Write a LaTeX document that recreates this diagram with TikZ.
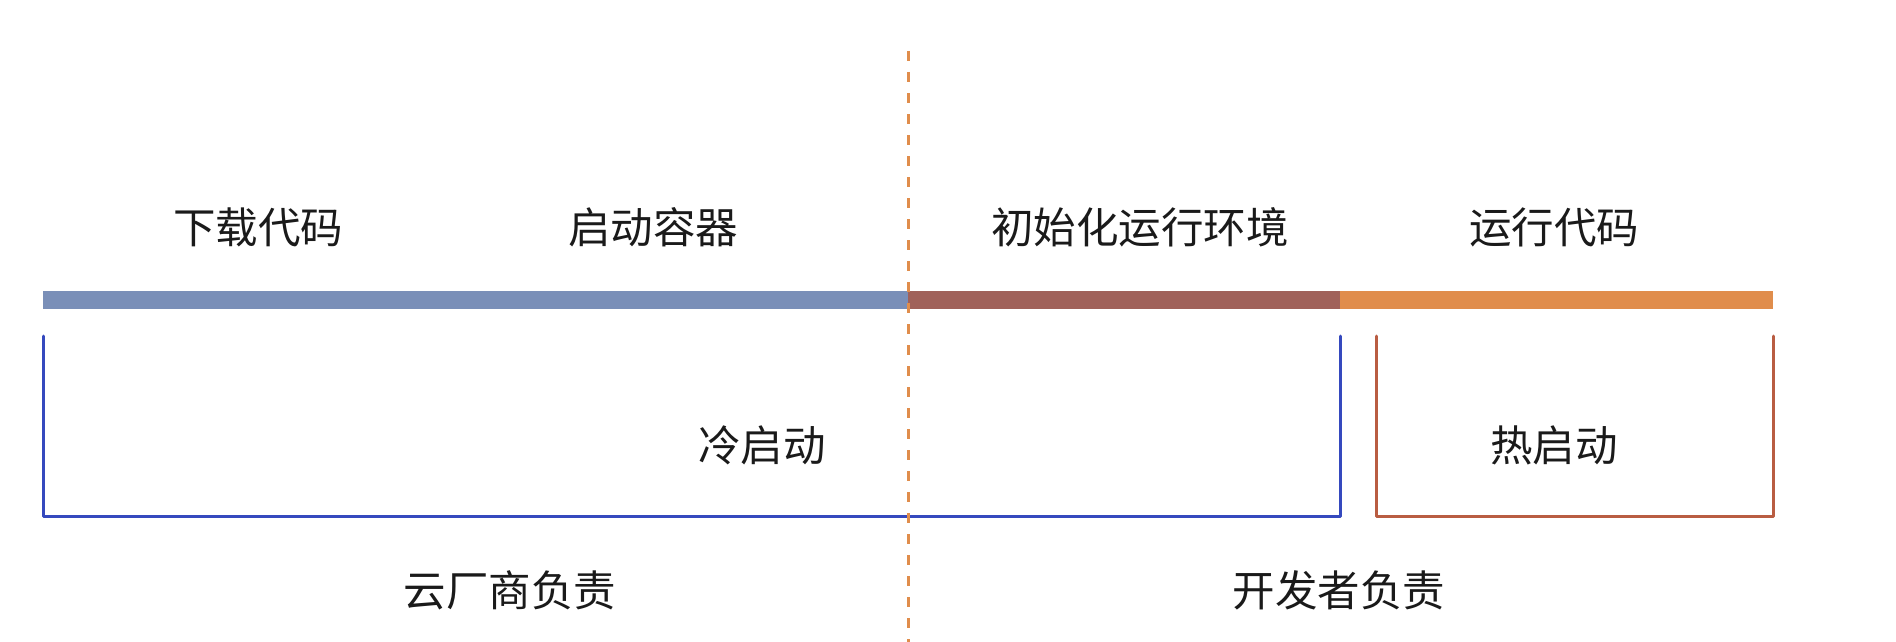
\documentclass[tikz,border=0pt]{standalone}
\usepackage{fontspec}
\newfontfamily\cjk{Noto Sans CJK SC}
\definecolor{barblue}{HTML}{7A8FB8}
\definecolor{barbrown}{HTML}{A0615A}
\definecolor{barorange}{HTML}{E08D4C}
\definecolor{brblue}{HTML}{3549BE}
\definecolor{brred}{HTML}{B95D42}
\definecolor{txt}{HTML}{1A1A1A}
\tikzset{
  lbl/.style={font=\cjk\fontsize{42.5}{46}\selectfont, text=txt, inner sep=0pt},
  seg/.style={line width=18pt},
  bracket/.style={line width=3pt, line join=round, line cap=round},
}
\begin{document}
\begin{tikzpicture}[x=1pt,y=-1pt]
\useasboundingbox (0,0) rectangle (1896,642);
\fill[white] (0,0) rectangle (1896,642);
% bar
\coordinate (b0) at (43,300);
\coordinate (b1) at (908,300);
\coordinate (b2) at (1340,300);
\coordinate (b3) at (1773,300);
\draw[seg, barblue] (b0) -- (b1);
\draw[seg, barbrown] (b1) -- (b2);
\draw[seg, barorange] (b2) -- (b3);
% brackets
\coordinate (c0) at (43,336);
\coordinate (c1) at (43,516);
\coordinate (c2) at (1340,516);
\coordinate (c3) at (1340,336);
\draw[bracket, brblue] (c0) -- (c1) -- (c2) -- (c3);
\coordinate (h0) at (1376,336);
\coordinate (h1) at (1376,516);
\coordinate (h2) at (1773,516);
\coordinate (h3) at (1773,336);
\draw[bracket, brred] (h0) -- (h1) -- (h2) -- (h3);
% dashed divider
\coordinate (d0) at (908,51);
\coordinate (d1) at (908,642);
\draw[barorange, line width=3pt, dash pattern=on 10pt off 11pt] (d0) -- (d1);
% labels
\node[lbl] (t1) at (258,227) {下载代码};
\node[lbl] (t2) at (653,227) {启动容器};
\node[lbl] (t3) at (1140,227) {初始化运行环境};
\node[lbl] (t4) at (1554,227) {运行代码};
\node[lbl] (cold) at (762,445) {冷启动};
\node[lbl] (hot) at (1554,445) {热启动};
\node[lbl] (r1) at (510,590) {云厂商负责};
\node[lbl] (r2) at (1339,590) {开发者负责};
\end{tikzpicture}
\end{document}
